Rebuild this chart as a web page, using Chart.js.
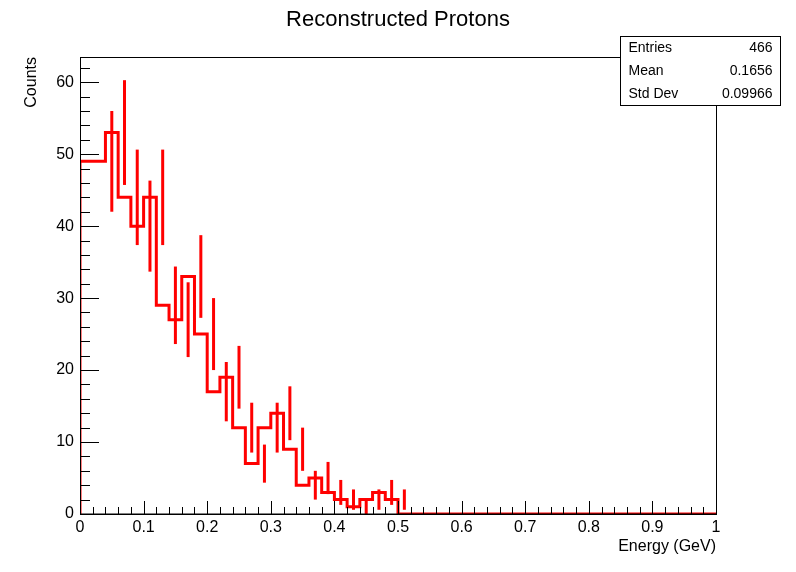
<!DOCTYPE html>
<html>
<head>
<meta charset="utf-8">
<script src="https://cdn.jsdelivr.net/npm/chart.js@4"></script>
<style>
  html, body { margin: 0; padding: 0; background: #fff; }
  #wrap { position: relative; width: 796px; height: 572px; }
</style>
</head>
<body>
<div id="wrap"><canvas id="histChart" width="796" height="572"></canvas></div>
<script>
// Histogram: 0.02 GeV bins, low edges and counts
const binLow = [0.04, 0.06, 0.08, 0.10, 0.12, 0.14, 0.16, 0.18, 0.20, 0.22, 0.24, 0.26,
                0.28, 0.30, 0.32, 0.34, 0.36, 0.38, 0.40, 0.42, 0.44, 0.46, 0.48, 0.50];
const counts = [49, 53, 44, 40, 44, 29, 27, 33, 25, 17, 19, 12,
                7, 12, 14, 9, 4, 5, 3, 2, 1, 2, 3, 2];
const binWidth = 0.02;
const xTicks = [0, 0.1, 0.2, 0.3, 0.4, 0.5, 0.6, 0.7, 0.8, 0.9, 1];
const yTicks = [0, 10, 20, 30, 40, 50, 60];
const stats = [['Entries', '466'], ['Mean', '0.1656'], ['Std Dev', '0.09966']];

const FONT = "'Liberation Sans', Arial, sans-serif";

// step points at bin edges
const stepData = [{x: 0, y: 0}];
binLow.forEach((lo, i) => stepData.push({x: lo, y: counts[i]}));
stepData.push({x: binLow[binLow.length - 1] + binWidth, y: 0});
stepData.push({x: 1, y: 0});

const rootFrame = {
    id: 'rootFrame',
    afterDatasetsDraw(chart) {
        const ctx = chart.ctx;
        const a = chart.chartArea;
        const xs = chart.scales.x, ys = chart.scales.y;
        ctx.save();
        // error bars
        ctx.strokeStyle = '#ff0000';
        ctx.lineWidth = 3;
        binLow.forEach((lo, i) => {
            const n = counts[i];
            const e = Math.sqrt(n);
            const px = xs.getPixelForValue(lo + binWidth / 2);
            ctx.beginPath();
            ctx.moveTo(px, ys.getPixelForValue(n - e));
            ctx.lineTo(px, ys.getPixelForValue(n + e));
            ctx.stroke();
        });
        // frame
        ctx.strokeStyle = '#000';
        ctx.lineWidth = 1;
        ctx.strokeRect(a.left + 0.5, a.top + 0.5, a.right - a.left, a.bottom - a.top);
        ctx.beginPath();
        ctx.moveTo(a.left, a.bottom); ctx.lineTo(a.right, a.bottom);
        ctx.stroke();
        // x ticks
        ctx.beginPath();
        for (let i = 0; i <= 50; i++) {
            const px = Math.round(xs.getPixelForValue(i * 0.02)) + 0.5;
            const len = i % 5 === 0 ? 13 : (i % 5 === 0 ? 13 : 7);
            ctx.moveTo(px, a.bottom); ctx.lineTo(px, a.bottom - (i % 5 === 0 ? 13 : 7));
        }
        // y ticks
        for (let v = 0; v <= 62; v += 2) {
            const py = Math.round(ys.getPixelForValue(v)) + 0.5;
            const len = v % 10 === 0 ? 19 : 10;
            ctx.moveTo(a.left, py); ctx.lineTo(a.left + len, py);
        }
        ctx.stroke();
        // tick labels
        ctx.fillStyle = '#000';
        ctx.font = '16px ' + FONT;
        ctx.textAlign = 'center'; ctx.textBaseline = 'top';
        xTicks.forEach(v => ctx.fillText(String(v), xs.getPixelForValue(v), a.bottom + 6));
        ctx.textAlign = 'right'; ctx.textBaseline = 'middle';
        yTicks.forEach(v => ctx.fillText(String(v), a.left - 6, ys.getPixelForValue(v)));
        // axis titles
        ctx.textAlign = 'right'; ctx.textBaseline = 'top';
        ctx.fillText('Energy (GeV)', a.right, a.bottom + 25);
        ctx.save();
        ctx.translate(32, a.top);
        ctx.rotate(-Math.PI / 2);
        ctx.textAlign = 'right'; ctx.textBaseline = 'middle';
        ctx.fillText('Counts', 0, 0);
        ctx.restore();
        // title
        ctx.font = '22px ' + FONT;
        ctx.textAlign = 'center'; ctx.textBaseline = 'middle';
        ctx.fillText('Reconstructed Protons', 398, 20);
        // stats box
        const bx = 620.5, by = 36.5, bw = 160, rh = 23;
        ctx.fillStyle = '#fff';
        ctx.fillRect(bx, by, bw, rh * 3);
        ctx.strokeRect(bx, by, bw, rh * 3);
        ctx.font = '14px ' + FONT;
        ctx.fillStyle = '#000';
        stats.forEach((s, i) => {
            const cy = by + rh * i + rh / 2;
            ctx.textAlign = 'left'; ctx.fillText(s[0], bx + 8, cy);
            ctx.textAlign = 'right'; ctx.fillText(s[1], bx + bw - 8, cy);
        });
        ctx.restore();
    }
};

new Chart(document.getElementById('histChart'), {
    type: 'line',
    data: {
        datasets: [{
            data: stepData,
            stepped: 'after',
            borderColor: '#ff0000',
            borderWidth: 3,
            pointRadius: 0,
            fill: false
        }]
    },
    options: {
        responsive: false,
        animation: false,
        layout: { padding: { left: 80, right: 80, top: 57, bottom: 58 } },
        scales: {
            x: { type: 'linear', min: 0, max: 1, display: false },
            y: { type: 'linear', min: 0, max: 63.5, display: false }
        },
        plugins: { legend: { display: false }, tooltip: { enabled: false } }
    },
    plugins: [rootFrame]
});
</script>
</body>
</html>
